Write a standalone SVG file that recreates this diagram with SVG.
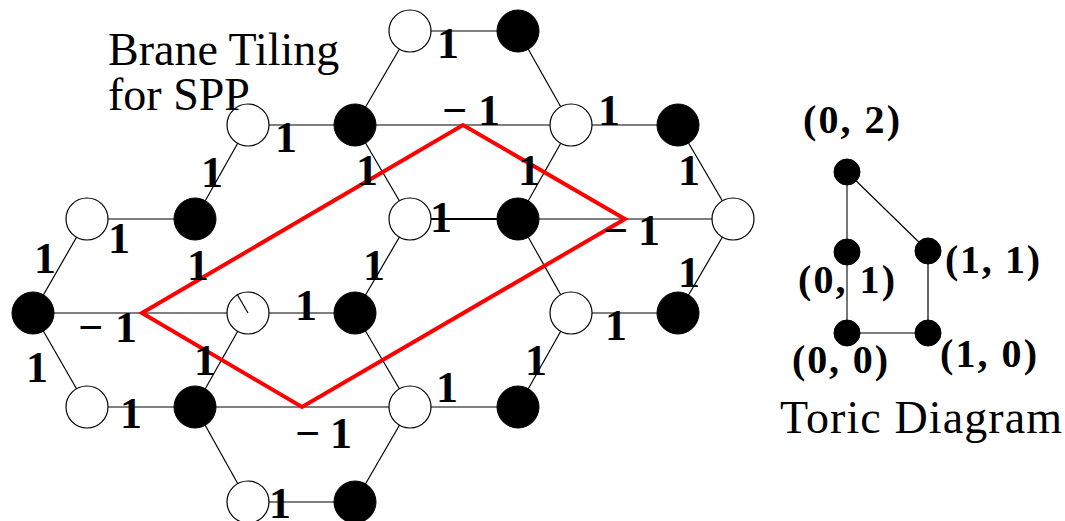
<svg xmlns="http://www.w3.org/2000/svg" width="1065" height="521" viewBox="0 0 1065 521">
<style>
.e{stroke:#000;stroke-width:1.2;fill:none}
.w{fill:#fff;stroke:#000;stroke-width:1.2}
.b{fill:#000;stroke:#000;stroke-width:1}
.lb{font-family:"Liberation Serif","Times New Roman",serif;font-weight:bold;font-size:44px;fill:#000;text-anchor:middle}
.lm{font-family:"Liberation Serif","Times New Roman",serif;font-weight:bold;font-size:44px;fill:#000}
.t{font-family:"Liberation Serif","Times New Roman",serif;font-size:46px;fill:#000}
.c{font-family:"Liberation Serif","Times New Roman",serif;font-weight:bold;font-size:40px;fill:#000}
.red{stroke:#f00;stroke-width:4;fill:none;stroke-linejoin:miter}
</style>
<rect width="1065" height="521" fill="#fff"/>
<g id="connectors">
<line class="e" x1="410" y1="31" x2="518" y2="31"/>
<line class="e" x1="248" y1="125" x2="355" y2="125"/>
<line class="e" x1="355" y1="125" x2="571" y2="125"/>
<line class="e" x1="571" y1="125" x2="678" y2="125"/>
<line class="e" x1="87" y1="219" x2="195" y2="219"/>
<line class="e" x1="410" y1="219" x2="518" y2="219" style="stroke-width:2"/>
<line class="e" x1="518" y1="219" x2="733" y2="219"/>
<line class="e" x1="33" y1="313" x2="248" y2="313"/>
<line class="e" x1="248" y1="313" x2="355" y2="313"/>
<line class="e" x1="571" y1="313" x2="678" y2="313"/>
<line class="e" x1="87" y1="407" x2="195" y2="407"/>
<line class="e" x1="195" y1="407" x2="410" y2="407"/>
<line class="e" x1="410" y1="407" x2="518" y2="407"/>
<line class="e" x1="248" y1="502" x2="355" y2="502"/>
<line class="e" x1="410" y1="31" x2="355" y2="125"/>
<line class="e" x1="518" y1="31" x2="571" y2="125"/>
<line class="e" x1="248" y1="125" x2="195" y2="219"/>
<line class="e" x1="355" y1="125" x2="410" y2="219"/>
<line class="e" x1="571" y1="125" x2="518" y2="219"/>
<line class="e" x1="678" y1="125" x2="733" y2="219"/>
<line class="e" x1="87" y1="219" x2="33" y2="313"/>
<line class="e" x1="518" y1="219" x2="571" y2="313"/>
<line class="e" x1="733" y1="219" x2="678" y2="313"/>
<line class="e" x1="410" y1="219" x2="355" y2="313"/>
<line class="e" x1="33" y1="313" x2="87" y2="407"/>
<line class="e" x1="248" y1="313" x2="195" y2="407"/>
<line class="e" x1="355" y1="313" x2="410" y2="407"/>
<line class="e" x1="571" y1="313" x2="518" y2="407"/>
<line class="e" x1="195" y1="407" x2="248" y2="502"/>
<line class="e" x1="410" y1="407" x2="355" y2="502"/>
<line class="e" x1="847" y1="172" x2="847" y2="333" style="stroke:#555;stroke-width:1.6"/>
<line class="e" x1="847" y1="172" x2="928" y2="251"/>
<line class="e" x1="928" y1="251" x2="928" y2="333"/>
<line class="e" x1="847" y1="333" x2="928" y2="333"/>
</g>
<g id="nodes">
<g id="w1"><circle class="w" cx="410" cy="31" r="21"/></g>
<g id="b1"><circle class="b" cx="518" cy="31" r="21"/></g>
<g id="w2"><circle class="w" cx="248" cy="125" r="21"/></g>
<g id="b2"><circle class="b" cx="355" cy="125" r="21"/></g>
<g id="w3"><circle class="w" cx="571" cy="125" r="21"/></g>
<g id="b3"><circle class="b" cx="678" cy="125" r="21"/></g>
<g id="w4"><circle class="w" cx="87" cy="219" r="21"/></g>
<g id="b4"><circle class="b" cx="195" cy="219" r="21"/></g>
<g id="w5"><circle class="w" cx="410" cy="219" r="21"/></g>
<g id="b5"><circle class="b" cx="518" cy="219" r="21"/></g>
<g id="w6"><circle class="w" cx="733" cy="219" r="21"/></g>
<g id="b6"><circle class="b" cx="33" cy="313" r="21"/></g>
<g id="w7"><circle class="w" cx="248" cy="313" r="21"/></g>
<g id="b7"><circle class="b" cx="355" cy="313" r="21"/></g>
<g id="w8"><circle class="w" cx="571" cy="313" r="21"/></g>
<g id="b8"><circle class="b" cx="678" cy="313" r="21"/></g>
<g id="w9"><circle class="w" cx="87" cy="407" r="21"/></g>
<g id="b9"><circle class="b" cx="195" cy="407" r="21"/></g>
<g id="w10"><circle class="w" cx="410" cy="407" r="21"/></g>
<g id="b10"><circle class="b" cx="518" cy="407" r="21"/></g>
<g id="w11"><circle class="w" cx="248" cy="502" r="21"/></g>
<g id="b11"><circle class="b" cx="355" cy="502" r="21"/></g>
</g>
<g id="connectors-over">
<line class="e" x1="237" y1="294" x2="248" y2="313"/>
</g>
<g id="fundamental-domain">
<polygon class="red" points="142,313 463,125 625,219 302,407"/>
</g>
<g id="edge-labels">
<text class="lb" x="448" y="58">1</text>
<text class="lm" x="442" y="125" textLength="58" lengthAdjust="spacing">−1</text>
<text class="lb" x="609" y="125">1</text>
<text class="lb" x="286" y="152">1</text>
<text class="lb" x="212" y="187">1</text>
<text class="lb" x="367" y="185">1</text>
<text class="lb" x="529" y="185">1</text>
<text class="lb" x="689" y="185">1</text>
<text class="lb" x="119" y="253">1</text>
<text class="lb" x="441" y="232">1</text>
<text class="lm" x="603" y="245" textLength="57" lengthAdjust="spacing">−1</text>
<text class="lb" x="45" y="273">1</text>
<text class="lb" x="198" y="280">1</text>
<text class="lb" x="374" y="280">1</text>
<text class="lb" x="689" y="287">1</text>
<text class="lb" x="306" y="320">1</text>
<text class="lm" x="78" y="342" textLength="59" lengthAdjust="spacing">−1</text>
<text class="lb" x="616" y="340">1</text>
<text class="lb" x="37" y="382">1</text>
<text class="lb" x="205" y="375">1</text>
<text class="lb" x="536" y="375">1</text>
<text class="lb" x="131" y="428">1</text>
<text class="lb" x="447" y="402">1</text>
<text class="lm" x="295" y="448" textLength="57" lengthAdjust="spacing">−1</text>
<text class="lb" x="280" y="518">1</text>
</g>
<g id="title">
<text class="t"><tspan x="108" y="65">Brane Tiling</tspan><tspan x="108" y="110">for SPP</tspan></text>
</g>
<g id="toric">
<g id="t02"><circle class="b" cx="847" cy="172" r="13"/><text class="c" x="803" y="133" textLength="97" lengthAdjust="spacing">(0, 2)</text></g>
<g id="t01"><circle class="b" cx="847" cy="252" r="13"/><text class="c" x="798" y="293" textLength="97" lengthAdjust="spacing">(0, 1)</text></g>
<g id="t11"><circle class="b" cx="928" cy="251" r="13"/><text class="c" x="945" y="273" textLength="95" lengthAdjust="spacing">(1, 1)</text></g>
<g id="t00"><circle class="b" cx="847" cy="333" r="13"/><text class="c" x="792" y="373" textLength="96" lengthAdjust="spacing">(0, 0)</text></g>
<g id="t10"><circle class="b" cx="928" cy="333" r="13"/><text class="c" x="940" y="367" textLength="97" lengthAdjust="spacing">(1, 0)</text></g>
<text class="t" x="780" y="433" textLength="282" lengthAdjust="spacing">Toric Diagram</text>
</g>
</svg>
